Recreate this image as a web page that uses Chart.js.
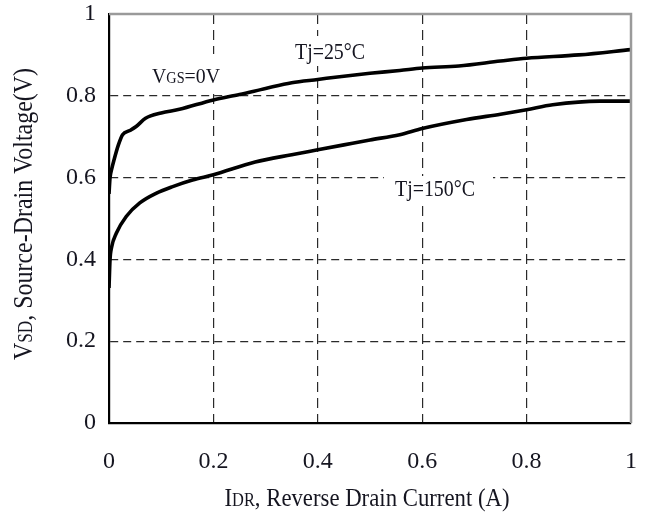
<!DOCTYPE html>
<html>
<head>
<meta charset="utf-8">
<script src="https://cdn.jsdelivr.net/npm/chart.js@4/dist/chart.umd.min.js"></script>
<style>
  html, body { margin: 0; padding: 0; background: #ffffff; }
  #wrap { width: 646px; height: 516px; }
</style>
</head>
<body>
<div id="wrap"><canvas id="c" width="646" height="516"></canvas></div>
<script>
// ---- data ----
const xTicks = [0, 0.2, 0.4, 0.6, 0.8, 1];
const yTicks = [0, 0.2, 0.4, 0.6, 0.8, 1];

const i25 = [0, 0.002, 0.005, 0.01, 0.018, 0.026, 0.04, 0.052, 0.07, 0.1, 0.135, 0.2, 0.25, 0.3, 0.35, 0.4, 0.45, 0.5, 0.557, 0.6, 0.67, 0.75, 0.8, 0.9, 1.0];
const v25 = [0.56, 0.6, 0.62, 0.645, 0.68, 0.705, 0.715, 0.725, 0.745, 0.758, 0.767, 0.79, 0.803, 0.818, 0.832, 0.84, 0.848, 0.855, 0.862, 0.868, 0.873, 0.885, 0.892, 0.9, 0.913];

const i150 = [0, 0.002, 0.005, 0.014, 0.033, 0.059, 0.091, 0.122, 0.16, 0.2, 0.28, 0.35, 0.4, 0.45, 0.5, 0.557, 0.6, 0.685, 0.75, 0.8, 0.85, 0.94, 1.0];
const v150 = [0.33, 0.4, 0.43, 0.464, 0.505, 0.538, 0.562, 0.578, 0.594, 0.607, 0.638, 0.656, 0.668, 0.68, 0.692, 0.705, 0.72, 0.742, 0.755, 0.766, 0.778, 0.787, 0.787];

const seriesNames = ['Tj=25°C', 'Tj=150°C'];

const xTitleParts = [['I', 1], ['DR', 0.72], [', Reverse Drain Current (A)', 1]];
const yTitleParts = [['V', 1], ['SD', 0.72], [', Source-Drain Voltage(V)', 1]];
const vgsParts = [['V', 1], ['GS', 0.72], ['=0V', 1]];

const toPts = (xs, ys) => xs.map((x, k) => ({ x: x, y: ys[k] }));

const SERIF = '"Liberation Serif", "DejaVu Serif", serif';

// draw rich text (with small-size parts) fitted into a box
function drawRich(ctx, parts, cx, cy, size, targetW, rotate) {
  ctx.save();
  ctx.textBaseline = 'alphabetic';
  ctx.textAlign = 'left';
  let w = 0;
  const widths = parts.map(p => {
    ctx.font = (size * p[1]) + 'px ' + SERIF;
    const m = ctx.measureText(p[0]).width;
    w += m;
    return m;
  });
  const sx = targetW / w;
  ctx.translate(cx, cy);
  if (rotate) ctx.rotate(-Math.PI / 2);
  ctx.scale(sx, 1);
  let x = -w / 2;
  const base = size * 0.33;
  ctx.fillStyle = '#151520';
  parts.forEach((p, k) => {
    ctx.font = (size * p[1]) + 'px ' + SERIF;
    ctx.fillText(p[0], x, base);
    x += widths[k];
  });
  ctx.restore();
}

function whiteBox(ctx, x0, y0, x1, y1) {
  ctx.save();
  ctx.fillStyle = '#ffffff';
  ctx.fillRect(x0, y0, x1 - x0, y1 - y0);
  ctx.restore();
}

const annotations = {
  id: 'annotations',
  afterDatasetsDraw(chart) {
    const ctx = chart.ctx;
    // white backgrounds behind the in-plot labels
    whiteBox(ctx, 146, 54, 229, 92);
    whiteBox(ctx, 286, 36, 375, 66);
    whiteBox(ctx, 384, 176, 493, 204);
  },
  afterDraw(chart) {
    const ctx = chart.ctx;
    const a = chart.chartArea;
    // top and right frame
    ctx.save();
    ctx.strokeStyle = '#9a9a9a';
    ctx.lineWidth = 2.5;
    ctx.beginPath();
    ctx.moveTo(a.left, a.top);
    ctx.lineTo(a.right, a.top);
    ctx.lineTo(a.right, a.bottom);
    ctx.stroke();
    ctx.restore();

    drawRich(ctx, xTitleParts, 367, 497, 26, 285, false);
    drawRich(ctx, yTitleParts, 23, 214, 28, 292, true);
    drawRich(ctx, vgsParts, 186, 76, 22, 68, false);
    drawRich(ctx, [[seriesNames[0], 1]], 330, 51, 23, 70, false);
    drawRich(ctx, [[seriesNames[1], 1]], 435, 188, 24, 80, false);
  }
};

const gridColor = (ctx) => {
  const v = ctx.tick ? ctx.tick.value : null;
  return (v === 0 || v === 1) ? 'rgba(0,0,0,0)' : '#2a2a2a';
};

new Chart(document.getElementById('c'), {
  type: 'line',
  data: {
    datasets: [
      { label: seriesNames[0], data: toPts(i25, v25), borderColor: '#000', borderWidth: 3.6, pointRadius: 0, cubicInterpolationMode: 'monotone', fill: false },
      { label: seriesNames[1], data: toPts(i150, v150), borderColor: '#000', borderWidth: 3.6, pointRadius: 0, cubicInterpolationMode: 'monotone', fill: false }
    ]
  },
  options: {
    responsive: false,
    devicePixelRatio: 1,
    animation: false,
    layout: { padding: { left: 0, top: 14, right: 15, bottom: 0 } },
    plugins: { legend: { display: false }, tooltip: { enabled: false } },
    scales: {
      x: {
        type: 'linear', min: 0, max: 1,
        afterBuildTicks: (s) => { s.ticks = xTicks.map(v => ({ value: v })); },
        afterFit: (s) => { s.height = 93; s.paddingLeft = 0; s.paddingRight = 0; },
        ticks: { font: { family: SERIF, size: 24 }, color: '#151520', padding: 24, maxRotation: 0,
                 callback: (v) => String(v) },
        grid: { color: gridColor, lineWidth: 1.2, drawTicks: false },
        border: { display: true, color: '#000', width: 2.2, dash: [10, 6] }
      },
      y: {
        type: 'linear', min: 0, max: 1,
        afterBuildTicks: (s) => { s.ticks = yTicks.map(v => ({ value: v })); },
        afterFit: (s) => { s.width = 109; s.paddingTop = 0; s.paddingBottom = 0; },
        ticks: { font: { family: SERIF, size: 24 }, color: '#151520', padding: 13,
                 callback: (v) => String(v) },
        grid: { color: gridColor, lineWidth: 1.2, drawTicks: false },
        border: { display: true, color: '#000', width: 2.2, dash: [8, 5] }
      }
    }
  },
  plugins: [annotations]
});
</script>
</body>
</html>
